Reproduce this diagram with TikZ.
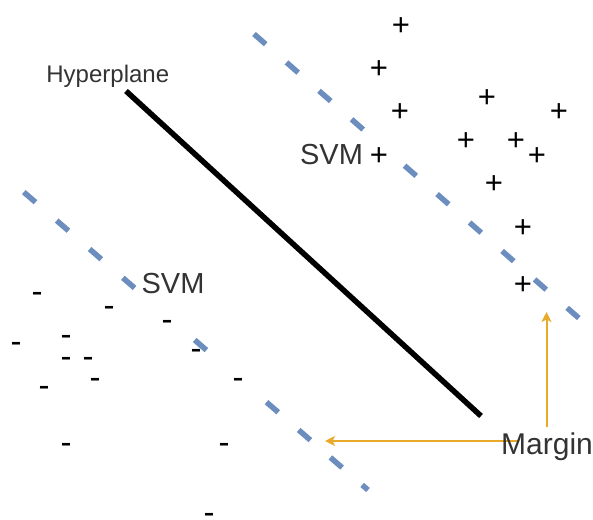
\documentclass[tikz,border=0pt]{standalone}
\usepackage{fontspec}
\setmainfont{Liberation Sans}
\usetikzlibrary{calc,arrows.meta}
\definecolor{svmblue}{HTML}{6C8EBF}
\definecolor{gold}{RGB}{232,170,40}
\definecolor{txt}{HTML}{333333}
\begin{document}
\begin{tikzpicture}[x=1pt,y=-1pt,
  ptsign/.style={font=\fontsize{31}{31}\selectfont, anchor=base, inner sep=0pt, yshift=-10.9pt, text=black},
  mnsign/.style={font=\fontsize{33}{33}\selectfont, anchor=base, inner sep=0pt, text height=0.31em, text depth=-0.19em, yshift=-8.25pt, text=black},
  lbl/.style={font=\fontsize{29}{29}\selectfont, anchor=base, inner sep=0pt, text=txt},
  dashseg/.style={draw=svmblue, line width=5.5pt},
  hyperline/.style={draw=black, line width=5.5pt},
  marrow/.style={draw=gold, line width=2pt, -{Stealth[length=10pt,width=10pt,inset=2.5pt]}}
]
\useasboundingbox (0,0) rectangle (593,519);

% upper margin line
\coordinate (uA) at (254,34);
\coordinate (uB) at (581,320);
\foreach \s in {0,43.2,86.4,129.6,200,243.2,286.4,329.6,372.8,416} {
  \pgfmathsetmacro\e{\s+15.5}
  \draw[dashseg] ($(uA)!\s pt!(uB)$) -- ($(uA)!\e pt!(uB)$);
}

% lower margin line
\coordinate (lA) at (23.8,192.1);
\coordinate (lB) at (368,490);
\foreach \s in {0,43.5,87,131,226,321,363.5,405.5} {
  \pgfmathsetmacro\e{\s+15.5}
  \draw[dashseg] ($(lA)!\s pt!(lB)$) -- ($(lA)!\e pt!(lB)$);
}
\draw[dashseg] ($(lA)!447.5pt!(lB)$) -- (lB);

% hyperplane
\coordinate (h1) at (126,91);
\coordinate (h2) at (481,416);
\draw[hyperline] (h1) -- (h2);

% margin arrows
\coordinate (mh) at (518,441);
\coordinate (th) at (325,441);
\coordinate (mv) at (546.5,427);
\coordinate (tv) at (546.5,312);
\draw[marrow] (mh) -- (th);
\draw[marrow] (mv) -- (tv);

% plus signs
\foreach [count=\i] \x/\y in {401/25, 379/68, 487/97, 400/111, 559/111, 466/140, 516/140, 537/155, 379/155, 494/183, 523/227, 523/284}
  \node[ptsign] (p\i) at (\x,\y) {+};

% minus signs
\foreach [count=\i] \x/\y in {37/294, 109/308, 167/322, 16/344, 66/337, 196/351, 66/359, 88/359, 95/380, 44/388, 238/380, 66/445, 224/445, 209/515.5}
  \node[mnsign] (m\i) at (\x,\y) {-};

% labels
\node[lbl, font=\fontsize{24}{24}\selectfont, anchor=base west] (hyp) at (46.2,82.7) {Hyperplane};
\node[lbl] (svmlow) at (173,293.3) {SVM};
\node[lbl] (svmup) at (331.5,164.5) {SVM};
\node[lbl, font=\fontsize{30}{30}\selectfont] (margin) at (547,454) {Margin};
\end{tikzpicture}
\end{document}
